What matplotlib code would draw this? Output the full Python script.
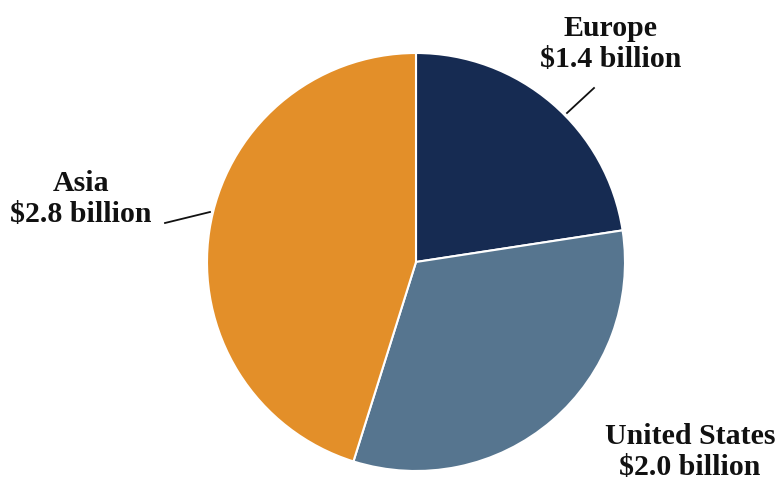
import matplotlib
matplotlib.use('Agg')
import matplotlib.pyplot as plt

regions = ['Europe', 'United States', 'Asia']
values = [1.4, 2.0, 2.8]
colors = ['#162b52', '#56758f', '#e38f29']

plt.rcParams['font.family'] = ['Liberation Serif', 'DejaVu Serif']

W, H = 781, 484
fig = plt.figure(figsize=(W / 100, H / 100), dpi=100)
ax = fig.add_axes([0, 0, 1, 1])

cx, cy, r = 416, H - 262, 209
ax.pie(values, colors=colors, startangle=90, counterclock=False,
       center=(cx, cy), radius=r, frame=True,
       wedgeprops=dict(edgecolor='white', linewidth=1.5))
ax.set_xlim(0, W)
ax.set_ylim(0, H)
ax.set_aspect('equal')
ax.axis('off')

labels = ['%s\n$%.1f billion' % (n, v) for n, v in zip(regions, values)]
label_pos = [(611, H - 44), (690, H - 452), (81, H - 199)]
for txt, (x, y) in zip(labels, label_pos):
    ax.text(x, y, txt.replace('$', r'\$'), ha='center', va='center',
            fontsize=21.5, fontweight='bold', linespacing=1.17, color='#111111')

# leader lines
ax.plot([567, 594], [H - 113, H - 88], color='#111111', lw=1.3)
ax.plot([165, 210], [H - 223, H - 212], color='#111111', lw=1.3)

fig.savefig('out.png', dpi=100)
